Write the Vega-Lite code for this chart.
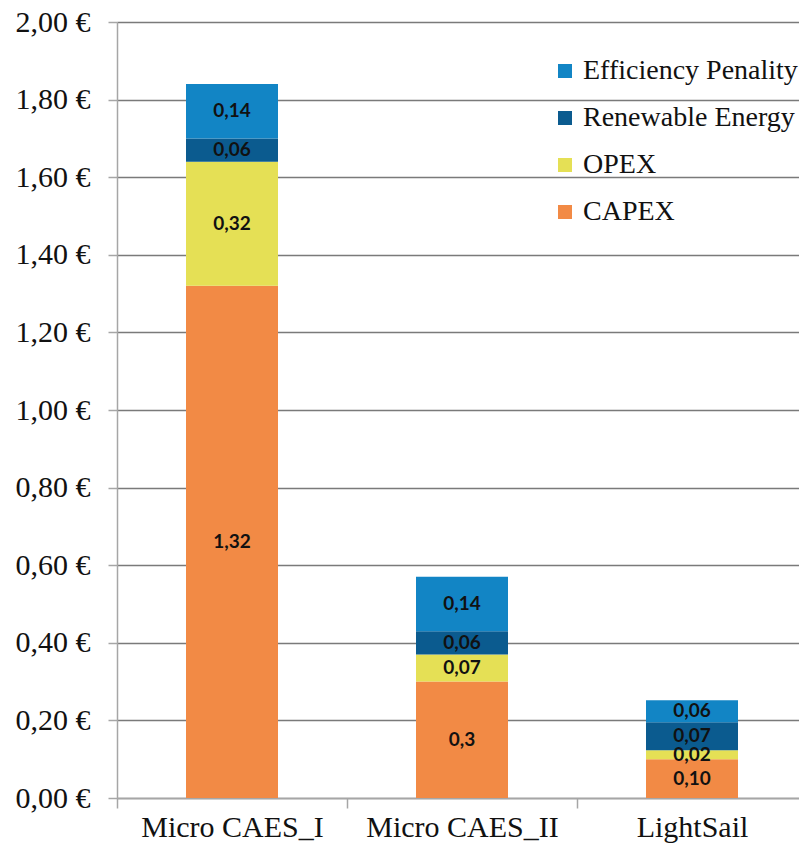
{
  "$schema": "https://vega.github.io/schema/vega-lite/v6.json",
  "width": 682,
  "height": 776,
  "autosize": {"type": "none"},
  "padding": {"left": 117, "top": 22, "right": 0, "bottom": 54},
  "background": "white",
  "config": {
    "view": {"stroke": null},
    "axis": {"labelFont": "Liberation Serif", "labelFontSize": 30, "labelColor": "#111111", "labelLimit": 400}
  },
  "data": {
    "values": [
      {"system": "Micro CAES_I", "component": "CAPEX", "value": 1.32, "label": "1,32"},
      {"system": "Micro CAES_I", "component": "OPEX", "value": 0.32, "label": "0,32"},
      {"system": "Micro CAES_I", "component": "Renewable Energy", "value": 0.06, "label": "0,06"},
      {"system": "Micro CAES_I", "component": "Efficiency Penality", "value": 0.14, "label": "0,14"},
      {"system": "Micro CAES_II", "component": "CAPEX", "value": 0.30, "label": "0,3"},
      {"system": "Micro CAES_II", "component": "OPEX", "value": 0.07, "label": "0,07"},
      {"system": "Micro CAES_II", "component": "Renewable Energy", "value": 0.06, "label": "0,06"},
      {"system": "Micro CAES_II", "component": "Efficiency Penality", "value": 0.14, "label": "0,14"},
      {"system": "LightSail", "component": "CAPEX", "value": 0.10, "label": "0,10"},
      {"system": "LightSail", "component": "OPEX", "value": 0.023, "label": "0,02"},
      {"system": "LightSail", "component": "Renewable Energy", "value": 0.072, "label": "0,07"},
      {"system": "LightSail", "component": "Efficiency Penality", "value": 0.057, "label": "0,06"}
    ]
  },
  "transform": [
    {"calculate": "indexof(['CAPEX','OPEX','Renewable Energy','Efficiency Penality'], datum.component)", "as": "ord"},
    {"stack": "value", "groupby": ["system"], "sort": [{"field": "ord", "order": "ascending"}], "as": ["v0", "v1"]},
    {"calculate": "(datum.v0 + datum.v1) / 2", "as": "mid"}
  ],
  "encoding": {
    "x": {
      "field": "system",
      "type": "nominal",
      "sort": ["Micro CAES_I", "Micro CAES_II", "LightSail"],
      "scale": {"range": [0, 690], "paddingInner": 0, "paddingOuter": 0},
      "axis": {
        "title": null,
        "labelAngle": 0,
        "labelLimit": 400,
        "tickBand": "extent",
        "domainColor": "#a6a6a6",
        "domainWidth": 1.5,
        "tickColor": "#a6a6a6",
        "tickWidth": 1.5,
        "tickSize": 10,
        "labelPadding": 4
      }
    }
  },
  "layer": [
    {
      "mark": {"type": "bar", "width": {"band": 0.4}},
      "encoding": {
        "y": {
          "field": "v1",
          "type": "quantitative",
          "scale": {"domain": [0, 2], "nice": false},
          "axis": {
            "title": null,
            "values": [0, 0.2, 0.4, 0.6, 0.8, 1.0, 1.2, 1.4, 1.6, 1.8, 2.0],
            "labelExpr": "replace(format(datum.value, '.2f'), '.', ',') + ' €'",
            "grid": true,
            "gridColor": "#7a7a7a",
            "gridWidth": 1.6,
            "domainColor": "#a6a6a6",
            "domainWidth": 1.5,
            "tickColor": "#a6a6a6",
            "tickWidth": 1.5,
            "tickSize": 9,
            "labelPadding": 18
          }
        },
        "y2": {"field": "v0"},
        "color": {
          "field": "component",
          "type": "nominal",
          "scale": {
            "domain": ["Efficiency Penality", "Renewable Energy", "OPEX", "CAPEX"],
            "range": ["#1285c5", "#0b5b8f", "#e5e055", "#f28a45"]
          },
          "legend": {
            "title": null,
            "orient": "none",
            "legendX": 434,
            "legendY": 35,
            "symbolType": "square",
            "symbolSize": 196,
            "symbolStrokeWidth": 0,
            "labelFont": "Liberation Serif",
            "labelFontSize": 28,
            "labelColor": "#111111",
            "labelOffset": 4,
            "labelLimit": 400,
            "rowPadding": 19
          }
        }
      }
    },
    {
      "mark": {"type": "text", "font": "Lato", "fontWeight": "bold", "fontSize": 19, "color": "#111111", "baseline": "middle"},
      "encoding": {
        "y": {"field": "mid", "type": "quantitative"},
        "text": {"field": "label"}
      }
    }
  ]
}
